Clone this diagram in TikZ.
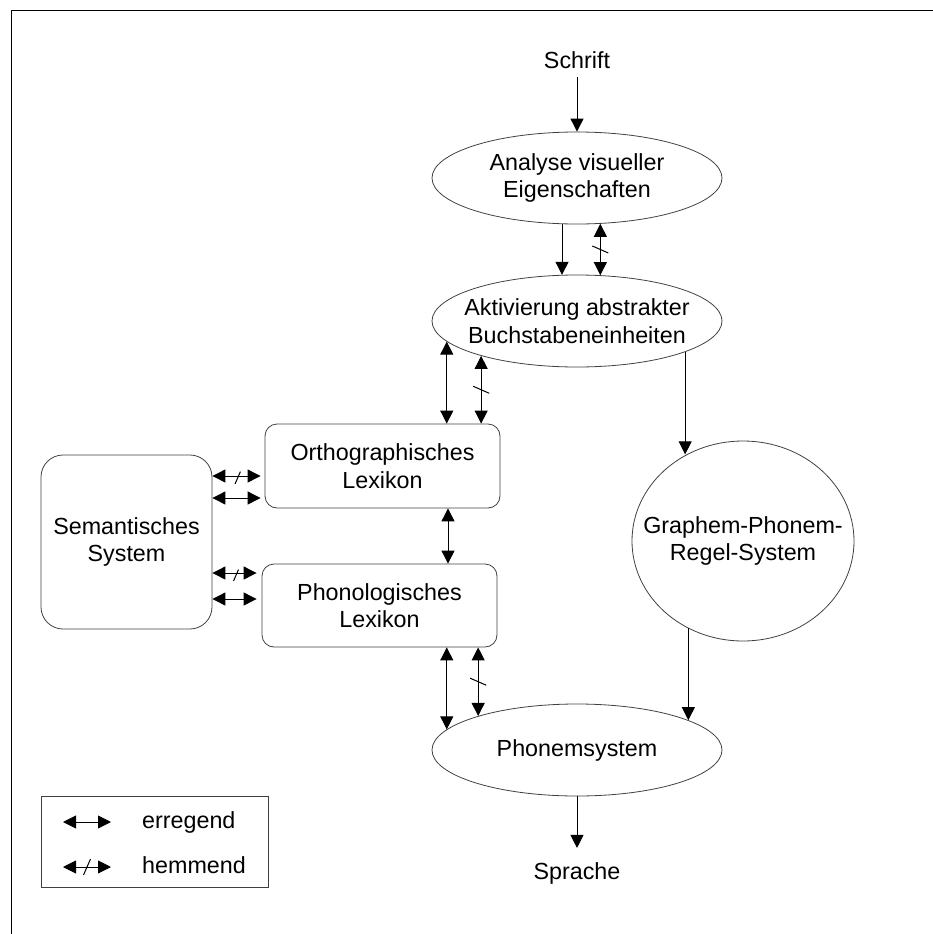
\documentclass[tikz,border=0pt]{standalone}
\usepackage{fontspec}
\setmainfont{Liberation Sans}
\usetikzlibrary{arrows.meta,shapes.geometric,decorations.markings}

\begin{document}
\begin{tikzpicture}[x=1pt,y=-1pt]
    % dual route reading model
    % - lexical route via the two lexica
    % - nonlexical route via the rule system
    \tikzset{stage/.style = {shape=ellipse,draw=black!75,line width=0.8pt,inner xsep=-30pt,inner ysep=0pt,
                             minimum width=290pt,minimum height=92pt,align=center}}
    \tikzset{store/.style = {shape=rectangle,rounded corners=12pt,draw=black!75,line width=0.8pt,
                             minimum width=235pt,minimum height=84pt,align=center}}
    \tikzset{pre/.style = {-{Triangle[length=13pt,width=13pt]},line width=0.9pt}}
    \tikzset{both/.style = {{Triangle[length=13pt,width=13pt]}-{Triangle[length=13pt,width=13pt]},line width=0.9pt}}
    \tikzset{hemm/.style = {both,postaction={decorate,decoration={markings,
                             mark=at position 0.5 with {\draw[-,line width=1pt] (-3.5pt,-8pt) -- (3.5pt,8pt);}}}}}
    \fontsize{23.3}{27.5}\selectfont

    \useasboundingbox (0,0) rectangle (933,934);
    \draw[line width=1pt] (11,934) -- (11,11) -- (933,11);

    % visual input
    \node (schrift) at (577,60) {Schrift};
    \node[stage] (analyse) at (577,178) {Analyse visueller\\Eigenschaften};
    \node[stage] (aktiv) at (577,321) {Aktivierung abstrakter\\Buchstabeneinheiten};
    \draw[pre] (schrift) -- (analyse);
    \draw[pre] (analyse.252) -- (aktiv.108);
    \draw[hemm] (analyse.297) -- (aktiv.63);

    % lexical route
    \node[store] (ortho) at (382.5,466) {Orthographisches\\Lexikon};
    \node[store,minimum height=83pt] (phono) at (379.5,605.5) {Phonologisches\\Lexikon};
    \node[store,minimum width=171pt,minimum height=174pt,rounded corners=22pt] (sem) at (126.5,542) {Semantisches\\System};
    \draw[both] (aktiv.189) -- (aktiv.189 |- ortho.north);
    \draw[hemm] (aktiv.200) -- (aktiv.200 |- ortho.north);
    \coordinate (ol) at ([xshift=65.5pt]ortho.south);
    \draw[both] (ol) -- (ol |- phono.north);

    % semantic links
    \coordinate (o1) at ([yshift=-10pt]ortho.west);
    \coordinate (o2) at ([yshift=-32pt]ortho.west);
    \coordinate (p1) at ([yshift=32.5pt]phono.west);
    \coordinate (p2) at ([yshift=6.5pt]phono.west);
    \draw[hemm,shorten >=4pt] (sem.east |- o1) -- (o1);
    \draw[both,shorten >=4pt] (sem.east |- o2) -- (o2);
    \draw[hemm,shorten >=5pt] (sem.east |- p1) -- (p1);
    \draw[both,shorten >=5pt] (sem.east |- p2) -- (p2);

    % nonlexical route
    \node[stage,minimum width=222pt,minimum height=200pt] (gpr) at (743,541) {Graphem-Phonem-\\Regel-System};
    \draw[pre] (aktiv.344) -- (aktiv.344 |- gpr.123);

    % output
    \node[stage] (phonem) at (577,750) {Phonemsystem};
    \node[inner ysep=14pt] (sprache) at (577,873) {Sprache};
    \draw[both] (phonem.171 |- phono.south) -- (phonem.171);
    \draw[hemm] (phonem.161 |- phono.south) -- (phonem.161);
    \draw[pre] (gpr.238) -- (gpr.238 |- phonem.15);
    \draw[pre] (phonem) -- (sprache);

    % legend
    \node[draw=black!75,line width=0.8pt,minimum width=227pt,minimum height=91pt] (legend) at (154.5,841.5) {};
    \coordinate (e1) at (63,822);
    \coordinate (e2) at (111,822);
    \coordinate (h1) at (63,867);
    \coordinate (h2) at (111,867);
    \draw[both] (e1) -- (e2);
    \draw[hemm] (h1) -- (h2);
    \node[anchor=west,inner sep=0pt] (erregend) at (142,822) {erregend};
    \node[anchor=west,inner sep=0pt] (hemmend) at (142,865) {hemmend};
\end{tikzpicture}
\end{document}
